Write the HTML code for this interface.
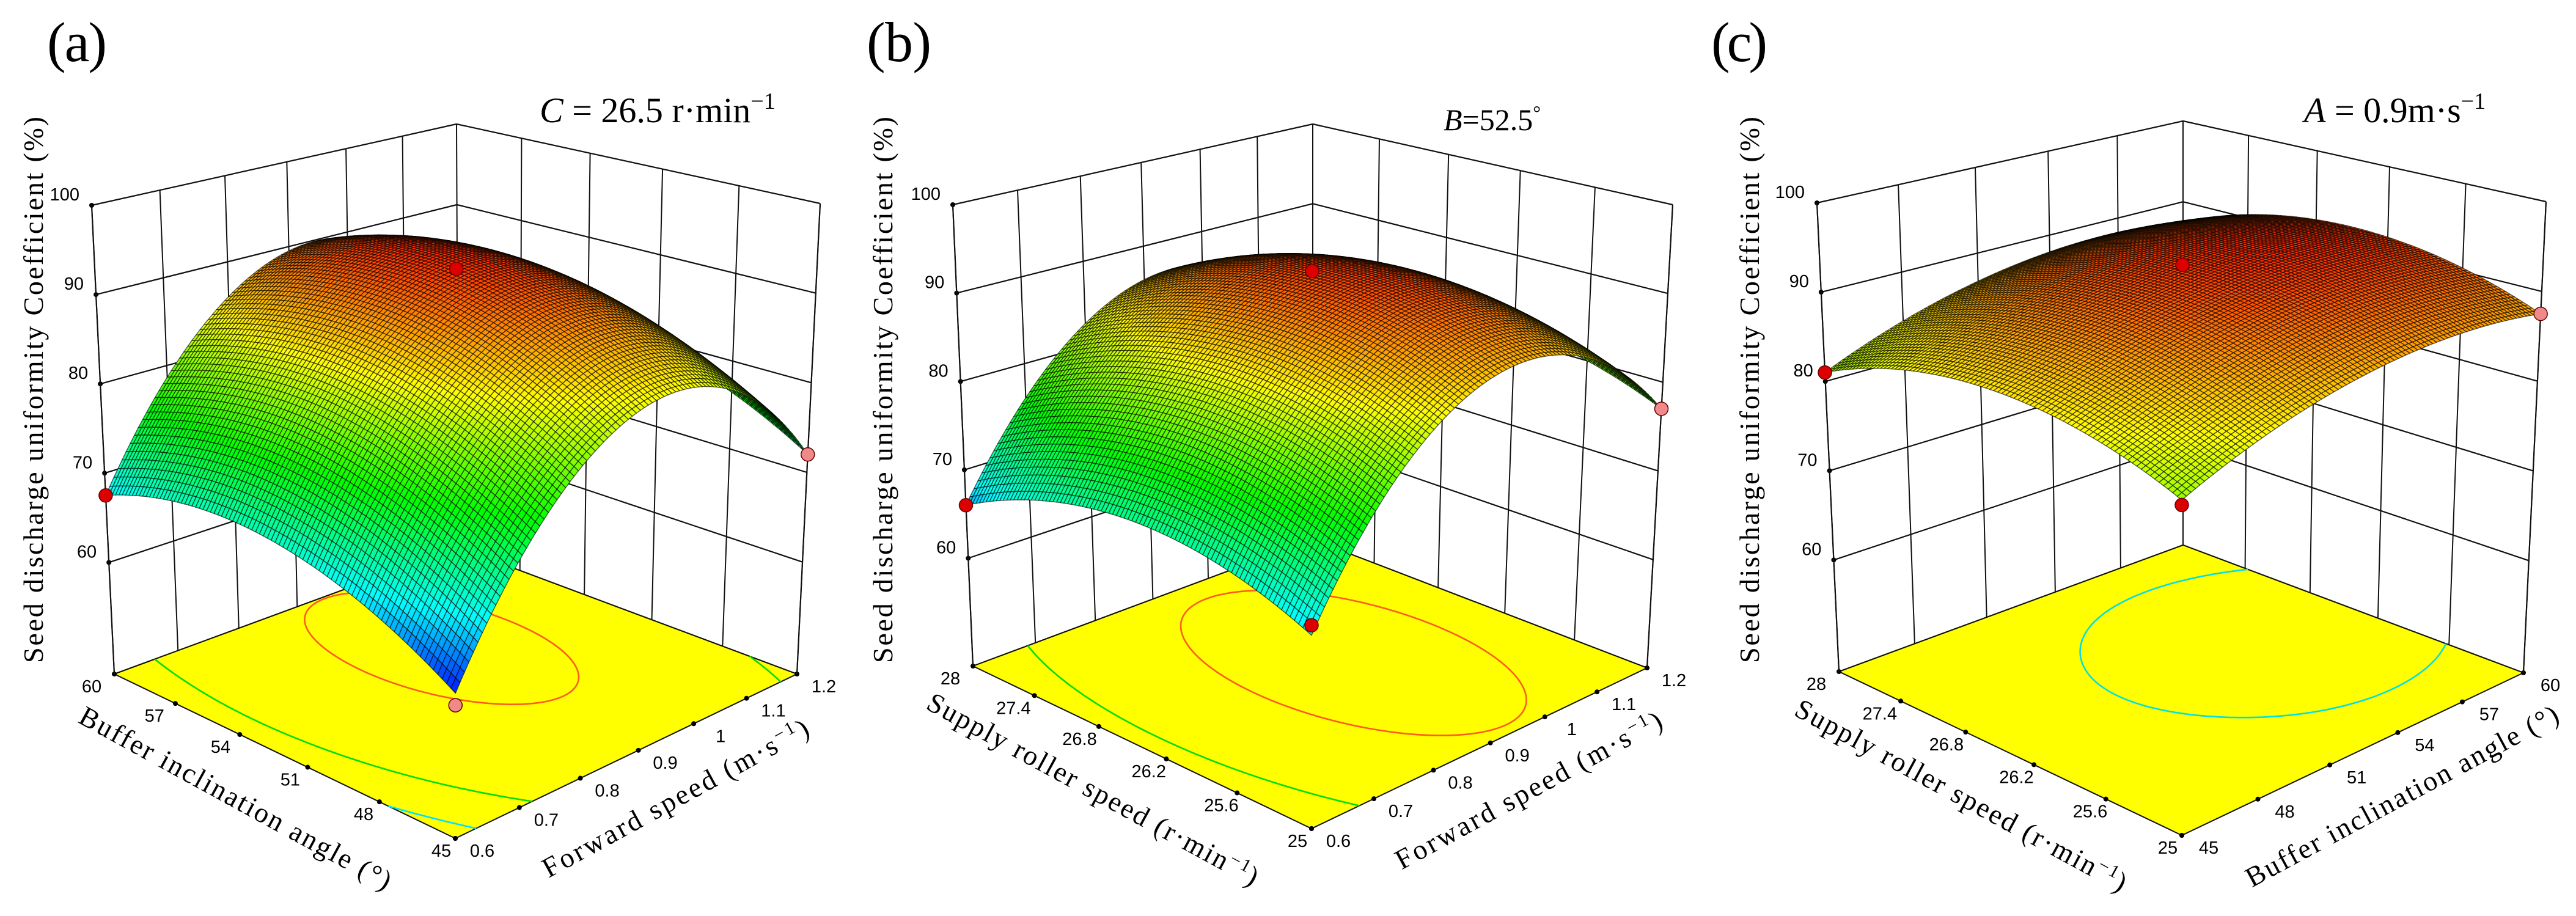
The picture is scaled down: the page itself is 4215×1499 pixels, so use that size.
<!DOCTYPE html>
<html><head><meta charset="utf-8">
<style>
html,body{margin:0;padding:0;background:#fff;}
svg{display:block;}
.tk{font-family:"Liberation Sans",Arial,sans-serif;font-size:29px;fill:#000;}
.tt{font-family:"Liberation Serif","Times New Roman",serif;font-size:46px;fill:#000;}
.pl{font-family:"Liberation Serif","Times New Roman",serif;font-size:92px;fill:#000;}
.an{font-family:"Liberation Serif","Times New Roman",serif;fill:#000;}
</style></head>
<body>
<svg id="fig" xmlns="http://www.w3.org/2000/svg" width="4215" height="1499" viewBox="0 0 4215 1499">
<rect x="0" y="0" width="4215" height="1499" fill="#fff"/>
<g id="pa"></g>
<g id="pb"></g>
<g id="pc"></g>
<text class="pl" x="77" y="100" textLength="98">(a)</text>
<text class="pl" x="1418" y="100" textLength="106">(b)</text>
<text class="pl" x="2800" y="100" textLength="92">(c)</text>
<text class="an" x="883" y="200" font-size="58"><tspan font-style="italic">C</tspan> = 26.5 r·min<tspan dy="-22" font-size="38">−1</tspan></text>
<text class="an" x="2362" y="213" font-size="50"><tspan font-style="italic">B</tspan>=52.5<tspan dy="-18" font-size="32">°</tspan></text>
<text class="an" x="3770" y="200" font-size="58"><tspan font-style="italic">A</tspan> = 0.9m·s<tspan dy="-22" font-size="38">−1</tspan></text>
</svg>
<script>
// ---------- data (coded grid -1,-0.5,0,0.5,1 ; rows = left axis front->left, cols = right axis front->right)
const gridA = [
 [62.0, 77.3, 84.0, 82.3, 72.0],
 [67.3, 82.6, 89.3, 87.6, 77.3],
 [70.0, 85.3, 92.0, 90.3, 80.0],
 [70.1, 85.3, 92.1, 90.3, 80.1],
 [67.5, 82.8, 89.5, 87.8, 77.5]];
const gridB = [
 [67.0, 80.8, 87.0, 85.8, 77.0],
 [70.5, 84.3, 90.5, 89.3, 80.5],
 [71.5, 85.3, 91.5, 90.3, 81.5],
 [70.0, 83.8, 90.0, 88.8, 80.0],
 [66.0, 79.8, 86.0, 84.8, 76.0]];
const gridC = [
 [81.0, 85.1, 87.5, 88.3, 87.5],
 [84.4, 88.4, 90.9, 91.7, 90.9],
 [85.5, 89.6, 92.0, 92.8, 92.0],
 [84.4, 88.4, 90.9, 91.7, 90.9],
 [81.0, 85.1, 87.5, 88.3, 87.5]];
const zTickValues = [60, 70, 80, 90, 100];
const zTickLabels = ['60', '70', '80', '90', '100'];
const leftTicksA = ['45', '48', '51', '54', '57', '60'];
const rightTicksA = ['0.6', '0.7', '0.8', '0.9', '1', '1.1', '1.2'];
const leftTicksB = ['25', '25.6', '26.2', '26.8', '27.4', '28'];
const rightTicksB = ['0.6', '0.7', '0.8', '0.9', '1', '1.1', '1.2'];
const leftTicksC = ['25', '25.6', '26.2', '26.8', '27.4', '28'];
const rightTicksC = ['45', '48', '51', '54', '57', '60'];
const contourLevelsA = [66, 75, 90];
const contourLevelsB = [66, 75, 88];
const contourLevelsC = [90.5];
const dotA_x1 = [1, 0, -1, -1];
const dotA_x2 = [-1, 0, 1, -1];
const dotA_val = [67.5, 92.8, 72.0, 60.8];
const dotA_kind = ['r', 'r', 'p', 'p'];
const dotB_x1 = [1, 0, -1, -1];
const dotB_x2 = [-1, 0, 1, -1];
const dotB_val = [66.0, 92.5, 77.0, 68.0];
const dotB_kind = ['r', 'r', 'p', 'r'];
const dotC_x1 = [1, 0, -1, -1];
const dotC_x2 = [-1, 0, 1, -1];
const dotC_val = [81.0, 93.0, 87.5, 80.5];
const dotC_kind = ['r', 'r', 'p', 'r'];

// ---------- layout
const NS = 'http://www.w3.org/2000/svg';
function mk(tag, attrs, parent) {
  const e = document.createElementNS(NS, tag);
  for (const k in attrs) e.setAttribute(k, attrs[k]);
  parent.appendChild(e);
  return e;
}
function homog(q) {
  const [x0, y0] = q[0], [x1, y1] = q[1], [x2, y2] = q[2], [x3, y3] = q[3];
  const dx1 = x1 - x2, dx2 = x3 - x2, dx3 = x0 - x1 + x2 - x3;
  const dy1 = y1 - y2, dy2 = y3 - y2, dy3 = y0 - y1 + y2 - y3;
  const den = dx1 * dy2 - dx2 * dy1;
  const g = (dx3 * dy2 - dx2 * dy3) / den, h = (dx1 * dy3 - dx3 * dy1) / den;
  const a = x1 - x0 + g * x1, b = x3 - x0 + h * x3, c = x0;
  const d = y1 - y0 + g * y1, e = y3 - y0 + h * y3, f = y0;
  return (u, v) => { const w = g * u + h * v + 1; return [(a * u + b * v + c) / w, (d * u + e * v + f) / w]; };
}
const nodes = [0, 0.25, 0.5, 0.75, 1];
function lag(x) {
  return nodes.map((ni, i) => { let p = 1; nodes.forEach((nj, j) => { if (j !== i) p *= (x - nj) / (ni - nj); }); return p; });
}
function evalGrid(g, s, t) {
  const ls = lag(s), lt = lag(t); let v = 0;
  for (let i = 0; i < 5; i++) for (let j = 0; j < 5; j++) v += g[i][j] * ls[i] * lt[j];
  return v;
}
const cstops = [[62, [0, 20, 255]], [68, [0, 255, 255]], [76, [0, 255, 0]], [84.5, [255, 255, 0]], [93, [255, 40, 0]], [97, [170, 0, 0]]];
function cmap(v) {
  if (v <= cstops[0][0]) return 'rgb(' + cstops[0][1].join(',') + ')';
  for (let i = 1; i < cstops.length; i++) {
    if (v <= cstops[i][0]) {
      const f = (v - cstops[i - 1][0]) / (cstops[i][0] - cstops[i - 1][0]);
      const a = cstops[i - 1][1], b = cstops[i][1];
      return 'rgb(' + [0, 1, 2].map(k => Math.round(a[k] + (b[k] - a[k]) * f)).join(',') + ')';
    }
  }
  return 'rgb(' + cstops[cstops.length - 1][1].join(',') + ')';
}
const contourColors = {66: '#00e0ff', 75: '#00dd00', 90: '#ff5a1a', 88: '#ff5a1a', 90.5: '#00e0e0'};

function drawPanel(cfg) {
  const G = document.getElementById(cfg.id);
  const fl = homog([cfg.F, cfg.L, cfg.K, cfg.R]);
  const tp = homog([cfg.FT, cfg.LT, cfg.KT, cfg.RT]);
  const z0 = cfg.z0;
  const P = (s, t, z) => { const a = fl(s, t), b = tp(s, t), f = (z - z0) / (100 - z0); return [a[0] + (b[0] - a[0]) * f, a[1] + (b[1] - a[1]) * f]; };
  const pt = p => p[0].toFixed(1) + ',' + p[1].toFixed(1);
  const line = (a, b, w, name) => {
    const l = mk('line', {x1: a[0].toFixed(1), y1: a[1].toFixed(1), x2: b[0].toFixed(1), y2: b[1].toFixed(1), stroke: '#111', 'stroke-width': w}, G);
    
    
  };
  const nL = cfg.leftTicks.length - 1, nR = cfg.rightTicks.length - 1;
  for (let k = 0; k <= nR; k++) line(P(1, k / nR, z0), P(1, k / nR, 100), 2, 'wall-gridline-vertical');
  for (let k = 0; k < nL; k++) line(P(k / nL, 1, z0), P(k / nL, 1, 100), 2, 'wall-gridline-vertical');
  const zs = [z0].concat(zTickValues);
  zs.forEach(z => { line(P(1, 0, z), P(1, 1, z), 2.2, 'wall-gridline-horizontal'); line(P(1, 1, z), P(0, 1, z), 2.2, 'wall-gridline-horizontal'); });
  zTickValues.forEach((z, i) => {
    const p = P(1, 0, z);
    const c = mk('circle', {cx: p[0], cy: p[1], r: 4, fill: '#000'}, G);
    
    
    const tx = mk('text', {x: p[0] - 20, y: p[1] - 8, 'text-anchor': 'end', class: 'tk'}, G);
    tx.textContent = zTickLabels[i];
    
    
  });
  const fp = mk('polygon', {points: [fl(0, 0), fl(1, 0), fl(1, 1), fl(0, 1)].map(pt).join(' '), fill: '#ffff00', stroke: '#111', 'stroke-width': 2}, G);
  
  
  const M = 110, V = [];
  for (let i = 0; i <= M; i++) { V.push([]); for (let j = 0; j <= M; j++) V[i].push(evalGrid(cfg.grid, i / M, j / M)); }
  cfg.levels.forEach(lv => {
    let d = '';
    for (let i = 0; i < M; i++) for (let j = 0; j < M; j++) {
      const c = [[i, j], [i + 1, j], [i + 1, j + 1], [i, j + 1]];
      const pts = [];
      for (let k = 0; k < 4; k++) {
        const a = c[k], b = c[(k + 1) % 4];
        const va = V[a[0]][a[1]], vb = V[b[0]][b[1]];
        if ((va - lv) * (vb - lv) < 0) {
          const f = (lv - va) / (vb - va);
          pts.push(fl((a[0] + (b[0] - a[0]) * f) / M, (a[1] + (b[1] - a[1]) * f) / M));
        }
      }
      for (let k = 0; k + 1 < pts.length; k += 2) d += 'M' + pt(pts[k]) + 'L' + pt(pts[k + 1]);
    }
    if (d) {
      const p = mk('path', {d: d, stroke: contourColors[lv] || '#0c0', 'stroke-width': 2.6, fill: 'none'}, G);
      
      
    }
  });
  cfg.leftTicks.forEach((lab, k) => {
    const s = k / nL, p = fl(s, 0);
    const c = mk('circle', {cx: p[0], cy: p[1], r: 4, fill: '#000'}, G);
    
    
    const tx = mk('text', {x: p[0] - 23 - 14 * s, y: p[1] + 30, 'text-anchor': 'middle', class: 'tk'}, G);
    tx.textContent = lab;
    
    
  });
  cfg.rightTicks.forEach((lab, k) => {
    const t = k / nR, p = fl(0, t);
    const c = mk('circle', {cx: p[0], cy: p[1], r: 4, fill: '#000'}, G);
    
    
    const tx = mk('text', {x: p[0] + 44, y: p[1] + 30, 'text-anchor': 'middle', class: 'tk'}, G);
    tx.textContent = lab;
    
    
  });
  line(P(1, 0, z0), P(1, 0, 100), 2.2, 'left-vertical-axis');
  line(P(0, 1, z0), P(0, 1, 100), 2.2, 'right-vertical-edge');
  const N = 90, pts = [], vals = [];
  for (let i = 0; i <= N; i++) { pts.push([]); vals.push([]); for (let j = 0; j <= N; j++) { const v = evalGrid(cfg.grid, i / N, j / N); vals[i].push(v); pts[i].push(P(i / N, j / N, v)); } }
  const cells = [];
  for (let i = 0; i < N; i++) for (let j = 0; j < N; j++) cells.push([i, j, i + j]);
  cells.sort((a, b) => b[2] - a[2]);
  const sg = mk('g', {stroke: 'rgba(0,0,0,0.62)', 'stroke-width': 1.4, 'stroke-linejoin': 'round'}, G);
  
  
  let html = '';
  cells.forEach(([i, j]) => {
    const v = (vals[i][j] + vals[i + 1][j] + vals[i + 1][j + 1] + vals[i][j + 1]) / 4;
    html += '<polygon points="' + [pts[i][j], pts[i + 1][j], pts[i + 1][j + 1], pts[i][j + 1]].map(pt).join(' ') + '" fill="' + cmap(v) + '"/>';
  });
  sg.innerHTML = html;
  cfg.dx1.forEach((x1, k) => {
    const p = P((x1 + 1) / 2, (cfg.dx2[k] + 1) / 2, cfg.dval[k]);
    const c = mk('circle', {cx: p[0], cy: p[1], r: 11, fill: cfg.dkind[k] === 'r' ? '#dd0000' : '#f08a8a', stroke: '#600', 'stroke-width': 1.5}, G);
    
    
  });
  const eL = [fl(1, 0), fl(0, 0)], eR = [fl(0, 0), fl(0, 1)];
  const mL = [(eL[0][0] + eL[1][0]) / 2 - 88, (eL[0][1] + eL[1][1]) / 2 + 82];
  const aL = Math.atan2(eL[1][1] - eL[0][1], eL[1][0] - eL[0][0]) * 180 / Math.PI + 3;
  const t1 = mk('text', {x: mL[0], y: mL[1], 'text-anchor': 'middle', class: 'tt', transform: 'rotate(' + aL.toFixed(1) + ' ' + mL[0] + ' ' + mL[1] + ')', textLength: cfg.lLen}, G);
  t1.innerHTML = cfg.lTitle;
  
  
  const mR = [(eR[0][0] + eR[1][0]) / 2 + 88, (eR[0][1] + eR[1][1]) / 2 + 82];
  const aR = Math.atan2(eR[1][1] - eR[0][1], eR[1][0] - eR[0][0]) * 180 / Math.PI - 3;
  const t2 = mk('text', {x: mR[0], y: mR[1], 'text-anchor': 'middle', class: 'tt', transform: 'rotate(' + aR.toFixed(1) + ' ' + mR[0] + ' ' + mR[1] + ')', textLength: cfg.rLen}, G);
  t2.innerHTML = cfg.rTitle;
  
  
  const t3 = mk('text', {x: cfg.yx, y: 638, 'text-anchor': 'middle', class: 'tt', transform: 'rotate(-90 ' + cfg.yx + ' 638)', textLength: 894}, G);
  t3.textContent = 'Seed discharge uniformity Coefficient (%)';
  
  
}
const sup = '<tspan dy="-16" font-size="30">−1</tspan><tspan dy="16">)</tspan>';
drawPanel({id: 'pa', F: [745, 1372], L: [187, 1103], K: [750, 896], R: [1304, 1103],
  FT: [746, 512], LT: [150, 336], KT: [747, 203], RT: [1342, 333], z0: 47.5,
  grid: gridA, leftTicks: leftTicksA, rightTicks: rightTicksA, levels: contourLevelsA,
  dx1: dotA_x1, dx2: dotA_x2, dval: dotA_val, dkind: dotA_kind,
  lTitle: 'Buffer inclination angle (°)', lLen: 575, rTitle: 'Forward speed (m·s' + sup, rLen: 490, yx: 70});
drawPanel({id: 'pb', F: [2146, 1356], L: [1592, 1090], K: [2148, 883], R: [2695, 1093],
  FT: [2146, 496], LT: [1559, 335], KT: [2148, 203], RT: [2737, 335], z0: 47.8,
  grid: gridB, leftTicks: leftTicksB, rightTicks: rightTicksB, levels: contourLevelsB,
  dx1: dotB_x1, dx2: dotB_x2, dval: dotB_val, dkind: dotB_kind,
  lTitle: 'Supply roller speed (r·min' + sup, lLen: 610, rTitle: 'Forward speed (m·s' + sup, rLen: 490, yx: 1460});
drawPanel({id: 'pc', F: [3570, 1367], L: [3009, 1099], K: [3572, 892], R: [4129, 1101],
  FT: [3570, 507], LT: [2973, 332], KT: [3572, 198], RT: [4166, 330], z0: 47.5,
  grid: gridC, leftTicks: leftTicksC, rightTicks: rightTicksC, levels: contourLevelsC,
  dx1: dotC_x1, dx2: dotC_x2, dval: dotC_val, dkind: dotC_kind,
  lTitle: 'Supply roller speed (r·min' + sup, lLen: 610, rTitle: 'Buffer inclination angle (°)', rLen: 575, yx: 2878});
</script>
</body></html>
